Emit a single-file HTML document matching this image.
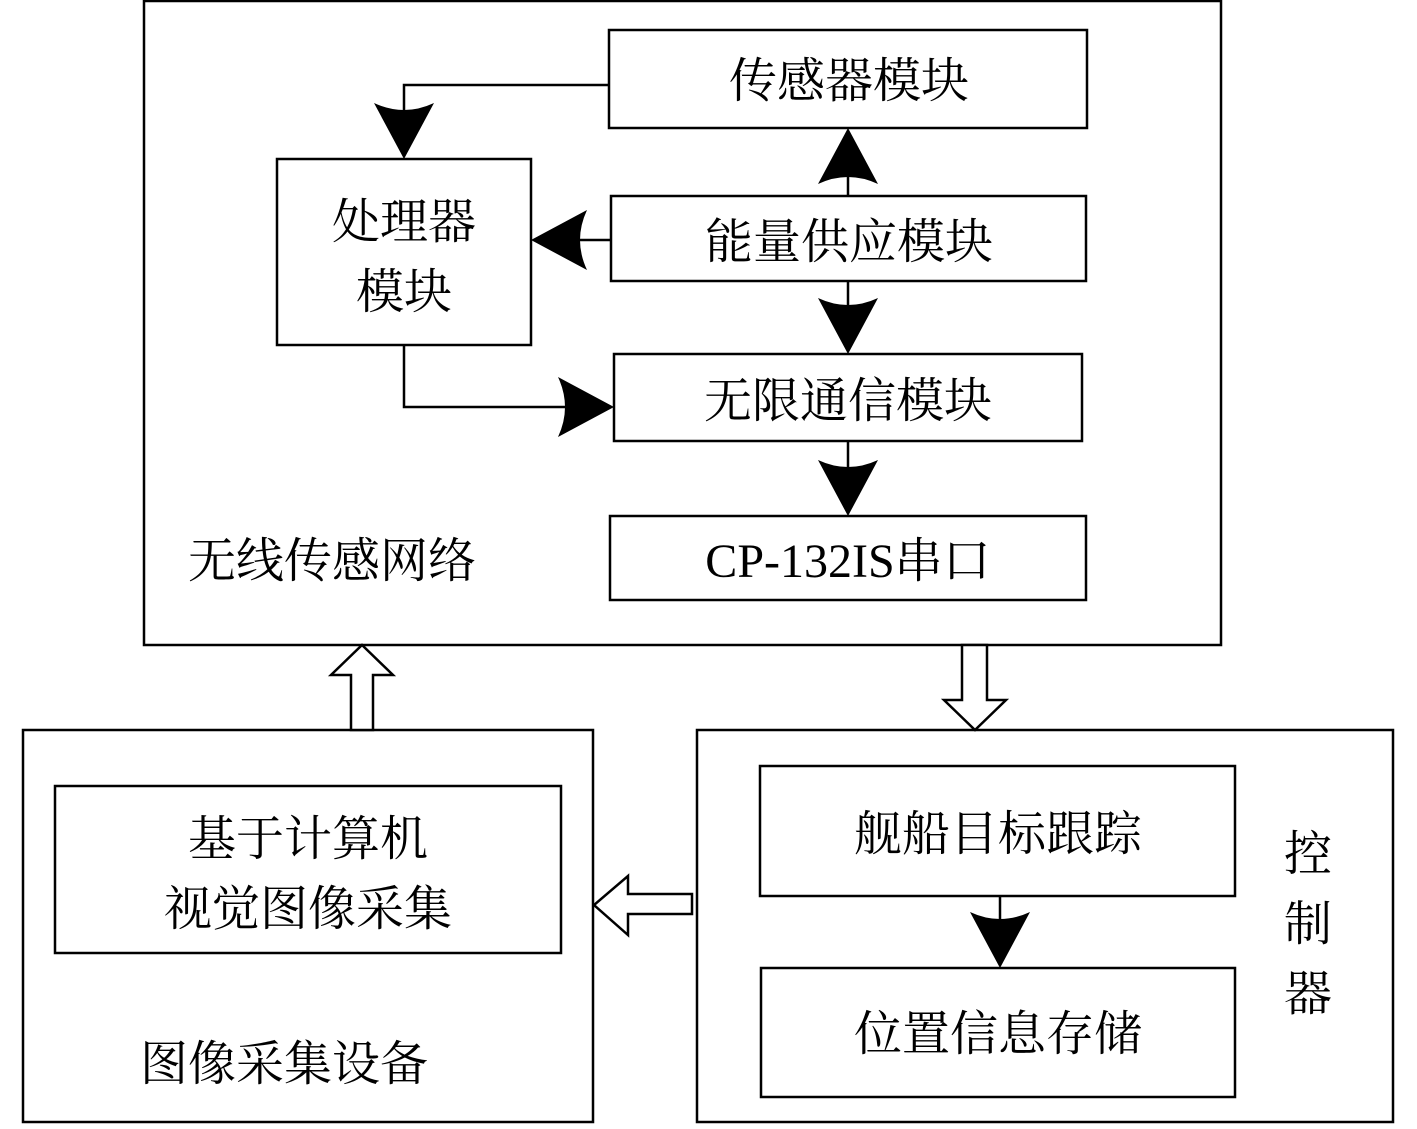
<!DOCTYPE html>
<html><head><meta charset="utf-8"><style>
body{margin:0;background:#fff}
text{font-family:"Liberation Serif","Noto Serif CJK SC",serif;font-size:48px;fill:#000}
</style></head><body>
<svg width="1417" height="1124" viewBox="0 0 1417 1124" xmlns="http://www.w3.org/2000/svg">
<defs>
<path id="ah" d="M0,0 L-30,-56 Q0,-42 30,-56 Z" fill="#000"/>
</defs>
<g fill="none" stroke="#000" stroke-width="2.5">
<rect x="144" y="1" width="1077" height="644"/>
<rect x="609" y="30" width="478" height="98"/>
<rect x="277" y="159" width="254" height="186"/>
<rect x="611" y="196" width="475" height="85"/>
<rect x="614" y="354" width="468" height="87"/>
<rect x="610" y="516" width="476" height="84"/>
<rect x="23" y="730" width="570" height="392"/>
<rect x="55" y="786" width="506" height="167"/>
<rect x="697" y="730" width="696" height="392"/>
<rect x="760" y="766" width="475" height="130"/>
<rect x="761" y="968" width="474" height="129"/>
<polyline points="609,85 404,85 404,120"/>
<line x1="848" y1="196" x2="848" y2="160"/>
<line x1="611" y1="240" x2="570" y2="240"/>
<line x1="848" y1="281" x2="848" y2="320"/>
<polyline points="404,345 404,407 580,407"/>
<line x1="848" y1="441" x2="848" y2="480"/>
<line x1="1000" y1="896" x2="1000" y2="935"/>
<polygon points="351,730 351,675 331,675 362,645 393,675 373,675 373,730" fill="#fff"/>
<polygon points="962,645 962,700 944,700 975,730 1006,700 987,700 987,645" fill="#fff"/>
<polygon points="692,894 628,894 628,876 594,905 628,935 628,914 692,914" fill="#fff"/>
</g>
<use href="#ah" transform="translate(404,159)"/>
<use href="#ah" transform="translate(848,128) rotate(180)"/>
<use href="#ah" transform="translate(531,240) rotate(90)"/>
<use href="#ah" transform="translate(848,354)"/>
<use href="#ah" transform="translate(614,407) rotate(-90)"/>
<use href="#ah" transform="translate(848,516)"/>
<use href="#ah" transform="translate(1000,968)"/>
<g text-anchor="middle">
<text x="849" y="97">传感器模块</text>
<text x="404" y="238">处理器</text>
<text x="404" y="308">模块</text>
<text x="849" y="258">能量供应模块</text>
<text x="848" y="417">无限通信模块</text>
<text x="848" y="577">CP-132IS串口</text>
<text x="308" y="855">基于计算机</text>
<text x="308" y="925">视觉图像采集</text>
<text x="998" y="850">舰船目标跟踪</text>
<text x="998" y="1050">位置信息存储</text>
<text x="1308" y="870">控</text>
<text x="1308" y="940">制</text>
<text x="1308" y="1010">器</text>
</g>
<text x="188" y="577">无线传感网络</text>
<text x="140" y="1080">图像采集设备</text>
</svg>
</body></html>
